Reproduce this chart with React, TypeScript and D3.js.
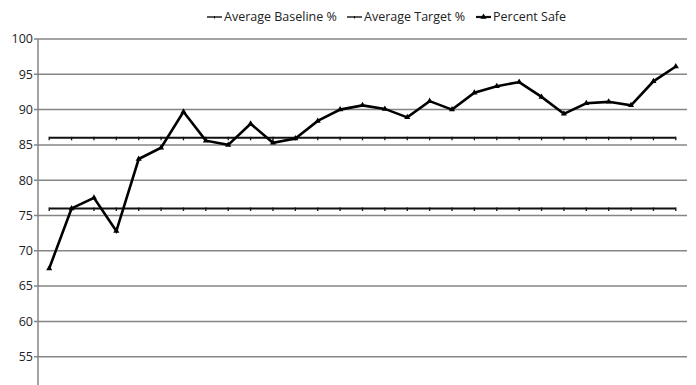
import React, { useEffect, useRef } from 'react';
import * as d3 from 'd3';

const periods = d3.range(1, 30).map((d) => String(d));
const percentSafe = [
  67.5, 76.0, 77.5, 72.8, 83.0, 84.6, 89.7, 85.6, 85.0, 88.0,
  85.3, 85.9, 88.4, 90.0, 90.6, 90.1, 88.9, 91.2, 90.0, 92.4,
  93.3, 93.9, 91.8, 89.4, 90.9, 91.1, 90.6, 94.0, 96.1,
];
const averageBaseline = periods.map(() => 76);
const averageTarget = periods.map(() => 86);
const yTicks = [50, 55, 60, 65, 70, 75, 80, 85, 90, 95, 100];
const legendLabels = ['Average Baseline %', 'Average Target %', 'Percent Safe'];

const App = () => {
  const svgRef = useRef<SVGSVGElement>(null);

  useEffect(() => {
    const width = 696;
    const margin = { top: 39, right: 9, left: 38 };
    const plotBottom = 392; // the 50 line falls just below the visible frame

    const svg = d3.select(svgRef.current);
    svg.selectAll('*').remove();

    const font = "'Open Sans', 'Liberation Sans', sans-serif";

    const xScale = d3.scaleBand().domain(periods).range([margin.left, width - margin.right]);
    const yScale = d3.scaleLinear().domain([50, 100]).range([plotBottom, margin.top]);
    const cx = (d: string) => (xScale(d) as number) + xScale.bandwidth() / 2;

    // gridlines
    svg.append('g')
      .selectAll('line')
      .data(yTicks)
      .enter()
      .append('line')
      .attr('x1', margin.left - 4)
      .attr('x2', width - margin.right)
      .attr('y1', (d) => yScale(d))
      .attr('y2', (d) => yScale(d))
      .attr('stroke', '#858585')
      .attr('stroke-width', 1.5);

    // y axis line
    svg.append('line')
      .attr('x1', margin.left)
      .attr('x2', margin.left)
      .attr('y1', margin.top)
      .attr('y2', plotBottom)
      .attr('stroke', '#858585')
      .attr('stroke-width', 1.5);

    // labels (50 is outside the visible frame)
    svg.append('g')
      .selectAll('text')
      .data(yTicks.filter((d) => d > 50))
      .enter()
      .append('text')
      .attr('x', margin.left - 5)
      .attr('y', (d) => yScale(d))
      .attr('dy', '0.35em')
      .attr('text-anchor', 'end')
      .attr('font-family', font)
      .attr('font-size', 12.5)
      .attr('fill', '#222')
      .text((d) => d);

    const line = d3.line<number>()
      .x((d, i) => cx(periods[i]))
      .y((d) => yScale(d));

    // flat reference lines with small tick marks
    [averageBaseline, averageTarget].forEach((series) => {
      svg.append('path')
        .datum(series)
        .attr('d', line)
        .attr('fill', 'none')
        .attr('stroke', '#111')
        .attr('stroke-width', 2);
      svg.append('g')
        .selectAll('line')
        .data(series)
        .enter()
        .append('line')
        .attr('x1', (d, i) => cx(periods[i]))
        .attr('x2', (d, i) => cx(periods[i]))
        .attr('y1', (d) => yScale(d) - 1)
        .attr('y2', (d) => yScale(d) + 2.5)
        .attr('stroke', '#111')
        .attr('stroke-width', 1.3);
    });

    // percent safe
    svg.append('path')
      .datum(percentSafe)
      .attr('d', line)
      .attr('fill', 'none')
      .attr('stroke', '#000')
      .attr('stroke-width', 2.6)
      .attr('stroke-linejoin', 'miter');

    const tri = d3.symbol().type(d3.symbolTriangle).size(16);
    svg.append('g')
      .selectAll('path')
      .data(percentSafe)
      .enter()
      .append('path')
      .attr('d', tri)
      .attr('transform', (d, i) => `translate(${cx(periods[i])},${yScale(d)})`)
      .attr('fill', '#000');

    // legend
    const legendX = [207, 347, 476];
    const legend = svg.append('g');
    legendLabels.forEach((label, i) => {
      const g = legend.append('g').attr('transform', `translate(${legendX[i]},17)`);
      g.append('line')
        .attr('x1', 0)
        .attr('x2', 15)
        .attr('stroke', '#111')
        .attr('stroke-width', i === 2 ? 2.2 : 1.4);
      if (i === 2) {
        g.append('path').attr('d', tri).attr('transform', 'translate(7.5,0)').attr('fill', '#000');
      } else {
        g.append('line')
          .attr('x1', 7.5)
          .attr('x2', 7.5)
          .attr('y1', -1)
          .attr('y2', 1.5)
          .attr('stroke', '#111')
          .attr('stroke-width', 1);
      }
      g.append('text')
        .attr('x', 17)
        .attr('dy', '0.35em')
        .attr('font-family', font)
        .attr('font-size', 12.5)
        .attr('fill', '#222')
        .text(label);
    });
  }, []);

  return (
    <svg
      ref={svgRef}
      width={696}
      height={385}
      style={{ position: 'absolute', left: 0, top: 0, background: '#fff' }}
    />
  );
};

export default App;
